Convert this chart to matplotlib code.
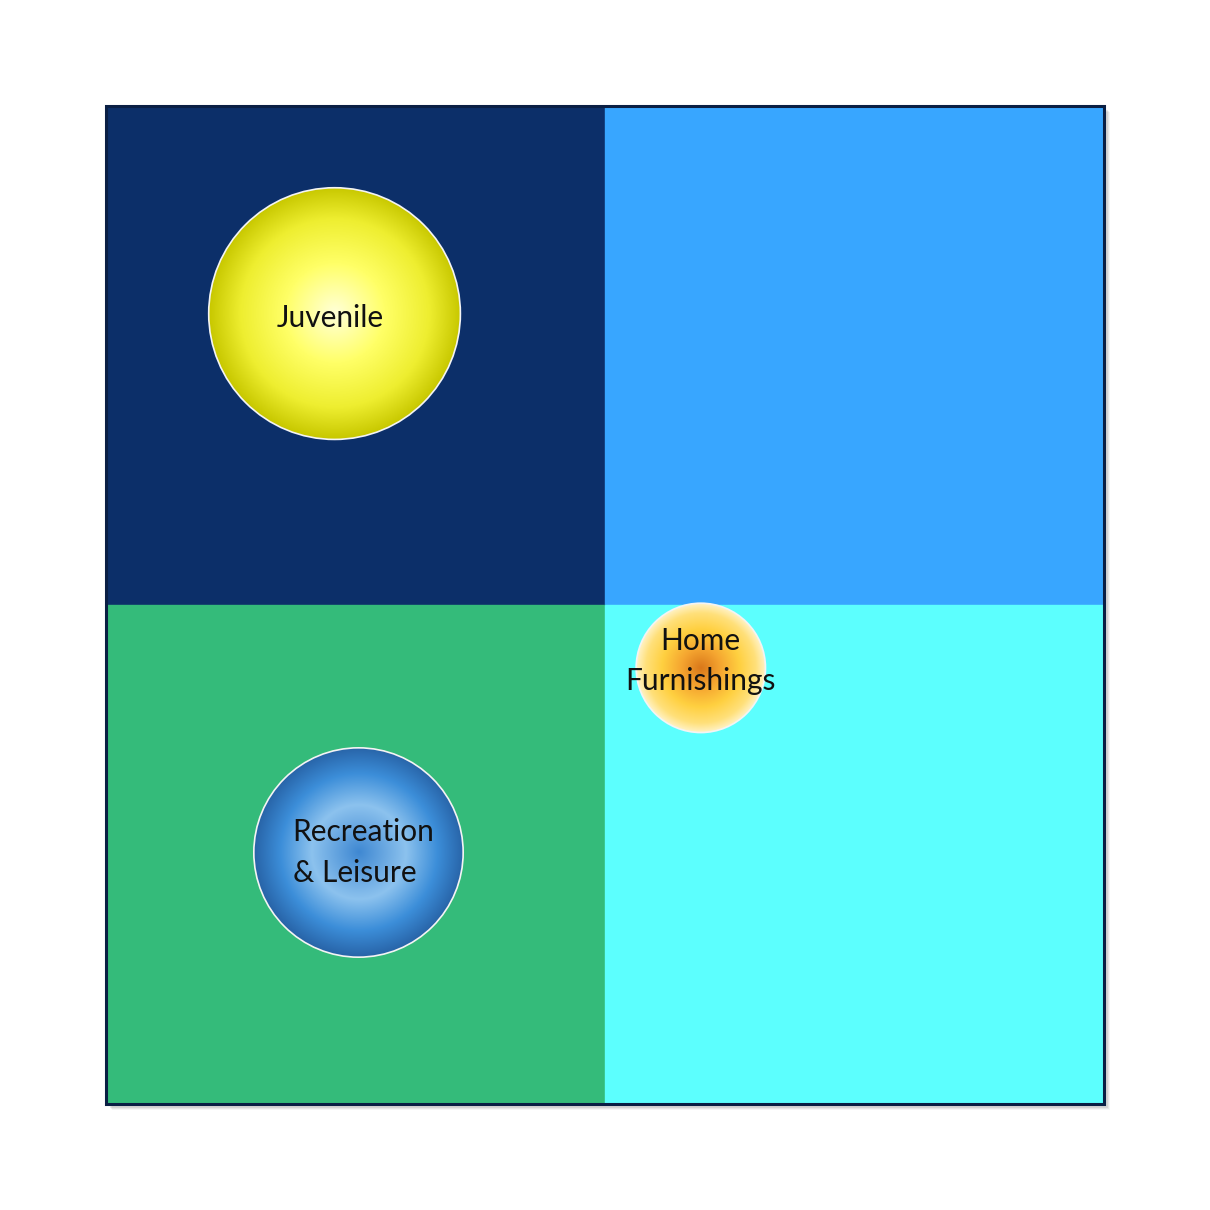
#!/usr/bin/env python3

import numpy as np
import matplotlib
matplotlib.use('Agg')
import matplotlib.pyplot as plt
from matplotlib.patches import Circle, Rectangle
from matplotlib.colors import LinearSegmentedColormap

# bubble data
labels = ['Juvenile', 'Home\nFurnishings', 'Recreation\n& Leisure']
x_vals = [22.9, 59.6, 25.3]
y_vals = [79.2, 43.7, 25.2]
sizes = [159, 42, 110]

# quadrant split and background
x_mid, y_mid = 50, 50
quad_colors = {'tl': '#0c2f69', 'tr': '#38a6ff', 'bl': '#34bb7a', 'br': '#5cfffe'}

# radial gradients, centre -> edge (position, colour)
bubble_cmaps = [
    [(0.0, '#ffffd8'), (0.4, '#ffff66'), (0.75, '#eeee30'), (1.0, '#c8c800')],
    [(0.0, '#d9781a'), (0.3, '#f5a530'), (0.6, '#ffd040'), (0.85, '#ffe07a'), (1.0, '#fff3c8')],
    [(0.0, '#3f88d2'), (0.45, '#8cc2ee'), (0.75, '#3c8ed9'), (1.0, '#2864a8')],
]
# label nudges (data units)
label_dx = [-0.4, 0.0, 0.5]
label_dy = [-0.4, 0.7, 0.0]

plt.rcParams['font.family'] = ['Lato', 'DejaVu Sans']

fig = plt.figure(figsize=(12.1, 12.1), dpi=100)
ax = fig.add_axes([106 / 1210, 106 / 1210, 998 / 1210, 998 / 1210])
ax.set_xlim(0, 100)
ax.set_ylim(0, 100)
ax.set_axis_off()

# soft drop shadow behind the plot frame
for i, a in enumerate([0.10, 0.08, 0.06, 0.04]):
    off = 0.25 + i * 0.12
    sh = Rectangle((off, -off), 100, 100, transform=ax.transData, facecolor='black',
                   alpha=a, edgecolor='none', zorder=0, clip_on=False)
    ax.add_patch(sh)

ax.add_patch(Rectangle((0, y_mid), x_mid, 100 - y_mid, color=quad_colors['tl'], zorder=1))
ax.add_patch(Rectangle((x_mid, y_mid), 100 - x_mid, 100 - y_mid, color=quad_colors['tr'], zorder=1))
ax.add_patch(Rectangle((0, 0), x_mid, y_mid, color=quad_colors['bl'], zorder=1))
ax.add_patch(Rectangle((x_mid, 0), 100 - x_mid, y_mid, color=quad_colors['br'], zorder=1))

n = 400
g = np.linspace(-1, 1, n)
gx, gy = np.meshgrid(g, g)
dist = np.clip(np.sqrt(gx ** 2 + gy ** 2), 0, 1)

for lab, x, y, s, cols, dx, dy in zip(labels, x_vals, y_vals, sizes, bubble_cmaps, label_dx, label_dy):
    r = np.sqrt(s)
    cmap = LinearSegmentedColormap.from_list('b', cols)
    im = ax.imshow(dist, cmap=cmap, vmin=0, vmax=1, extent=[x - r, x + r, y - r, y + r],
                   origin='lower', zorder=2, interpolation='bilinear')
    circ = Circle((x, y), r, facecolor='none', edgecolor='none', zorder=2)
    ax.add_patch(circ)
    im.set_clip_path(circ)
    ax.add_patch(Circle((x, y), r, facecolor='none', edgecolor='#f4f4f4', linewidth=1.2, zorder=3))
    ax.text(x + dx, y + dy, lab, ha='center', va='center',
            multialignment='left' if '&' in lab else 'center',
            fontsize=21.5, color='#111111', zorder=4, linespacing=1.55)

ax.set_xlim(0, 100)
ax.set_ylim(0, 100)

frame = Rectangle((0, 0), 100, 100, facecolor='none', edgecolor='#0a1f44', linewidth=2.2, zorder=5,
                  clip_on=False)
ax.add_patch(frame)

fig.savefig('out.png', dpi=100)
